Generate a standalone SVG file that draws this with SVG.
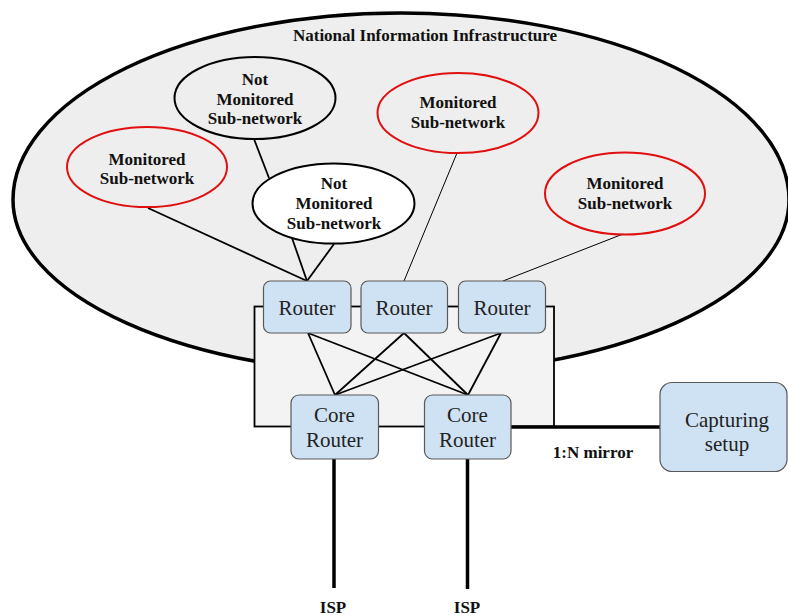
<svg xmlns="http://www.w3.org/2000/svg" width="788" height="615" viewBox="0 0 788 615">
  <style>
    .bold { font-family: "Liberation Serif", "Times New Roman", serif; font-weight: bold; font-size: 17px; fill: #111; text-anchor: middle; }
    .box { fill: #cfe2f3; stroke: #595959; stroke-width: 1.2; }
    .boxtxt { font-family: "Liberation Serif", "Times New Roman", serif; font-size: 21px; fill: #222; text-anchor: middle; }
    .mon { fill: none; stroke: #e01010; stroke-width: 2; }
    .notmon { stroke: #000; stroke-width: 2; }
    .link { stroke: #000; stroke-width: 1.8; fill: none; }
    .thin { stroke: #000; stroke-width: 1; fill: none; }
    .uplink { stroke: #000; stroke-width: 3.5; fill: none; }
  </style>

  <rect width="788" height="615" fill="#ffffff"/>

  <!-- National Information Infrastructure boundary -->
  <g id="nii">
    <path d="M 13,200 A 388,187 0 0 1 789,200 A 388,174 0 0 1 13,200 Z" fill="#eeeeee" stroke="#000" stroke-width="3.5"/>
    <text class="bold" x="425" y="41">National Information Infrastructure</text>
  </g>

  <!-- Backbone frame around the router tiers -->
  <g id="backbone">
    <rect x="254.5" y="306.5" width="299.5" height="120" fill="#f3f3f3" stroke="#000" stroke-width="1.8"/>
  </g>

  <!-- Connectors -->
  <g id="connectors">
    <!-- sub-networks to edge routers -->
    <line class="link" x1="148" y1="208" x2="307" y2="281"/>
    <line class="link" x1="292" y1="238" x2="307" y2="281"/>
    <line class="link" x1="334" y1="244" x2="307" y2="281"/>
    <line class="link" x1="254" y1="139" x2="269" y2="178"/>
    <line class="thin" x1="457" y1="153" x2="404" y2="281"/>
    <line class="thin" x1="623" y1="234" x2="503" y2="281"/>
    <!-- edge routers to core routers (full mesh) -->
    <line class="link" x1="308" y1="333" x2="335" y2="395"/>
    <line class="link" x1="308" y1="333" x2="468" y2="395"/>
    <line class="link" x1="404" y1="333" x2="335" y2="395"/>
    <line class="link" x1="404" y1="333" x2="468" y2="395"/>
    <line class="link" x1="501" y1="333" x2="335" y2="395"/>
    <line class="link" x1="501" y1="333" x2="468" y2="395"/>
    <!-- mirror port to capture -->
    <line class="uplink" x1="510" y1="427" x2="661" y2="427" stroke-width="3"/>
    <!-- uplinks to ISPs -->
    <line class="uplink" x1="334" y1="459" x2="334" y2="588"/>
    <line class="uplink" x1="467.5" y1="459" x2="467.5" y2="589"/>
  </g>

  <!-- Sub-networks -->
  <g id="monitored-left">
    <ellipse class="mon" cx="147" cy="167" rx="80" ry="40"/>
    <text class="bold" x="147" y="165">Monitored</text>
    <text class="bold" x="147" y="184">Sub-network</text>
  </g>
  <g id="not-monitored-1">
    <ellipse class="notmon" cx="255" cy="98" rx="80.5" ry="41" fill="#eeeeee"/>
    <text class="bold" x="255" y="85">Not</text>
    <text class="bold" x="255" y="105">Monitored</text>
    <text class="bold" x="255" y="124">Sub-network</text>
  </g>
  <g id="not-monitored-2">
    <ellipse class="notmon" cx="333.5" cy="203.5" rx="81" ry="40" fill="#ffffff"/>
    <text class="bold" x="334" y="189">Not</text>
    <text class="bold" x="334" y="209">Monitored</text>
    <text class="bold" x="334" y="229">Sub-network</text>
  </g>
  <g id="monitored-top">
    <ellipse class="mon" cx="458" cy="113" rx="80.5" ry="40"/>
    <text class="bold" x="458" y="108">Monitored</text>
    <text class="bold" x="458" y="128">Sub-network</text>
  </g>
  <g id="monitored-right">
    <ellipse class="mon" cx="625" cy="193.5" rx="80" ry="41"/>
    <text class="bold" x="625" y="189">Monitored</text>
    <text class="bold" x="625" y="209">Sub-network</text>
  </g>

  <!-- Edge routers -->
  <g id="router-1">
    <rect class="box" x="263.5" y="281" width="87.5" height="52" rx="7"/>
    <text class="boxtxt" x="307" y="315">Router</text>
  </g>
  <g id="router-2">
    <rect class="box" x="361" y="281" width="86.5" height="52" rx="7"/>
    <text class="boxtxt" x="404" y="315">Router</text>
  </g>
  <g id="router-3">
    <rect class="box" x="458.5" y="281" width="87" height="52" rx="7"/>
    <text class="boxtxt" x="502" y="315">Router</text>
  </g>

  <!-- Core routers -->
  <g id="core-router-1">
    <rect class="box" x="291" y="395" width="87.5" height="64" rx="8"/>
    <text class="boxtxt" x="334.5" y="422">Core</text>
    <text class="boxtxt" x="334.5" y="447">Router</text>
  </g>
  <g id="core-router-2">
    <rect class="box" x="424.5" y="395" width="86.5" height="64" rx="8"/>
    <text class="boxtxt" x="467.5" y="422">Core</text>
    <text class="boxtxt" x="467.5" y="447">Router</text>
  </g>

  <!-- Capture -->
  <g id="capturing-setup">
    <rect class="box" x="660" y="382.5" width="127" height="89" rx="12"/>
    <text class="boxtxt" x="727" y="427">Capturing</text>
    <text class="boxtxt" x="727" y="451">setup</text>
  </g>

  <!-- Labels -->
  <g id="labels">
    <text class="bold" x="593" y="458">1:N mirror</text>
    <text class="bold" x="333" y="613">ISP</text>
    <text class="bold" x="467" y="613">ISP</text>
  </g>
</svg>
